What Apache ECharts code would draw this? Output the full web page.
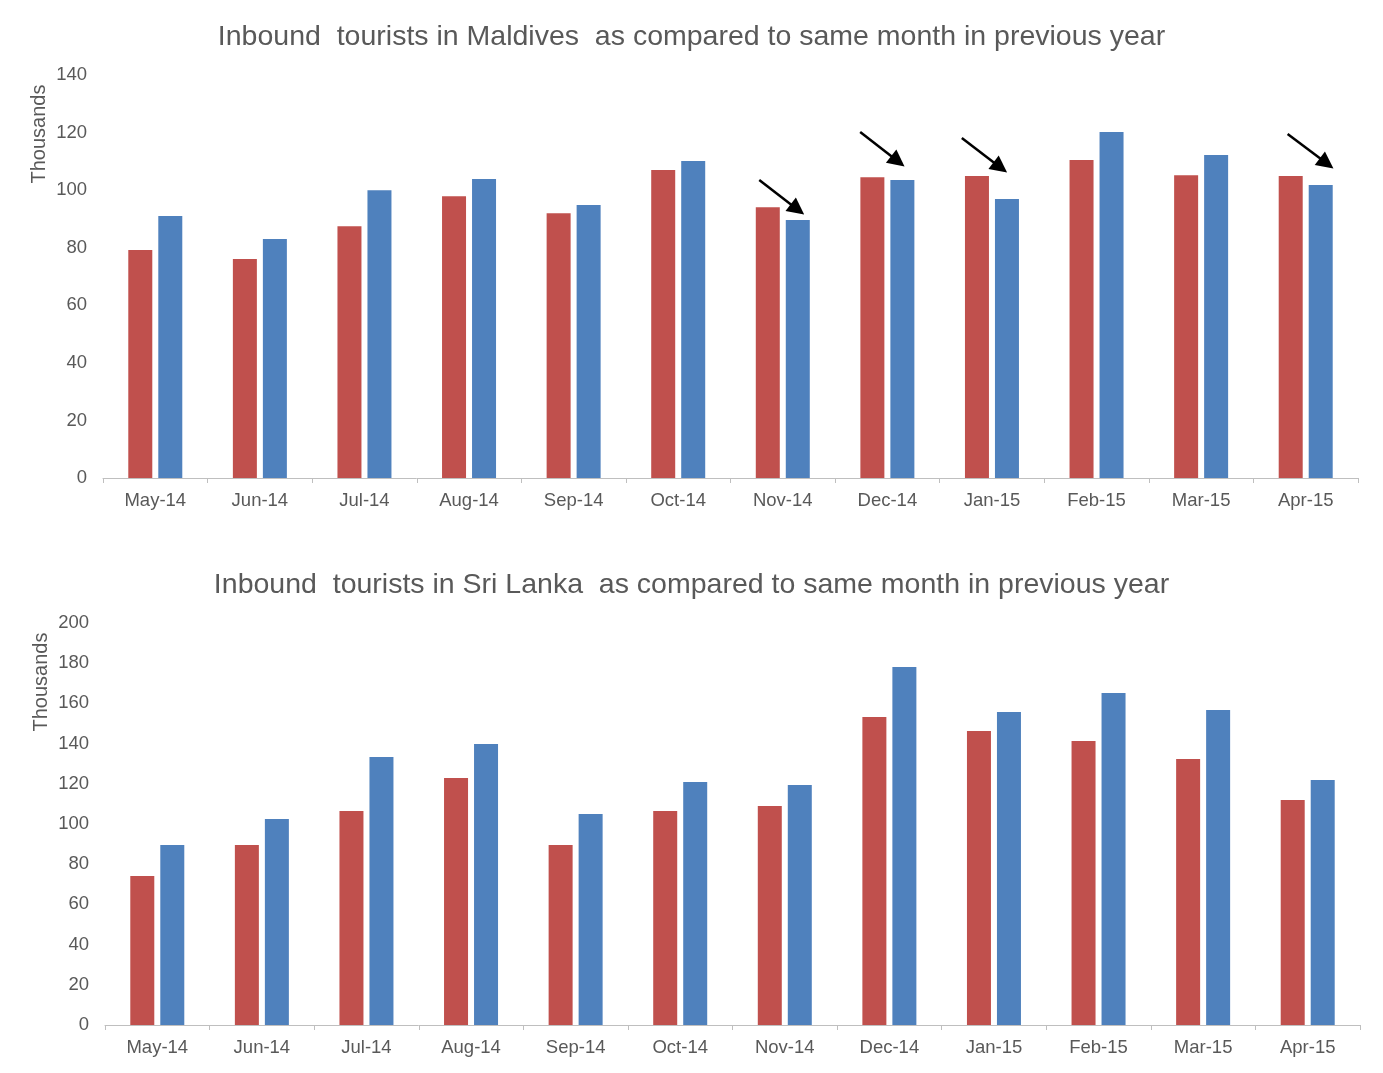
<!DOCTYPE html>
<html>
<head>
<meta charset="utf-8">
<script src="https://cdn.jsdelivr.net/npm/echarts@6/dist/echarts.min.js"></script>
<style>
html,body{margin:0;padding:0;background:#fff;}
#chart{width:1383px;height:1073px;}
</style>
</head>
<body>
<div id="chart"></div>
<script>
var months = ['May-14','Jun-14','Jul-14','Aug-14','Sep-14','Oct-14','Nov-14','Dec-14','Jan-15','Feb-15','Mar-15','Apr-15'];
var maldivesPrev = [79.2, 76.1, 87.5, 97.9, 92.0, 107.0, 94.1, 104.5, 104.9, 110.5, 105.2, 104.9];
var maldivesCurr = [91.0, 83.0, 100.0, 103.9, 94.8, 110.1, 89.6, 103.5, 96.9, 120.2, 112.2, 101.8];
var sriLankaPrev = [74.1, 89.6, 106.5, 122.9, 89.6, 106.5, 109.0, 153.2, 146.3, 141.3, 132.3, 111.9];
var sriLankaCurr = [89.6, 102.5, 133.3, 139.8, 105.0, 120.9, 119.4, 178.1, 155.7, 165.2, 156.7, 121.9];
// arrows on Maldives chart: [tail x (category index units), tail value, head x, head value]
var maldivesArrows = [
  [5.775, 103.5, 6.14, 93.3],
  [6.74, 120.2, 7.10, 110.0],
  [7.712, 118.1, 8.08, 107.9],
  [10.827, 119.5, 11.20, 109.3]
];
var titles = [
  'Inbound  tourists in Maldives  as compared to same month in previous year',
  'Inbound  tourists in Sri Lanka  as compared to same month in previous year'
];
var yName = 'Thousands';

var RED = '#C0504D', BLUE = '#4F81BD', TXT = '#595959';
var FONT = 'Liberation Sans, Arial, sans-serif';

var chart = echarts.init(document.getElementById('chart'));

function catAxis(gi) {
  return {
    type: 'category', gridIndex: gi, data: months,
    axisLine: {lineStyle: {color: '#bfbfbf', width: 1}},
    axisTick: {show: true, alignWithLabel: false, length: 5, lineStyle: {color: '#bfbfbf'}},
    axisLabel: {color: TXT, fontSize: 18.5, fontFamily: FONT, margin: 13},
    splitLine: {show: false}
  };
}
function valAxis(gi, max, interval) {
  return {
    type: 'value', gridIndex: gi, min: 0, max: max, interval: interval,
    axisLine: {show: false}, axisTick: {show: false},
    axisLabel: {color: TXT, fontSize: 18.5, fontFamily: FONT, margin: 16},
    splitLine: {show: false}
  };
}

var option = {
  animation: false,
  backgroundColor: '#fff',
  title: [
    {text: titles[0], left: 'center', top: 18, textStyle: {color: TXT, fontSize: 28.5, fontWeight: 'normal', fontFamily: FONT}},
    {text: titles[1], left: 'center', top: 566, textStyle: {color: TXT, fontSize: 28.5, fontWeight: 'normal', fontFamily: FONT}}
  ],
  grid: [
    {left: 103, right: 25, top: 75, height: 403},
    {left: 105, right: 23, top: 623, height: 402}
  ],
  xAxis: [
    catAxis(0),
    catAxis(1),
    {type: 'value', gridIndex: 0, min: -0.5, max: 11.5, show: false}
  ],
  yAxis: [
    valAxis(0, 140, 20),
    valAxis(1, 200, 20)
  ],
  graphic: [
    {type: 'text', x: 39, y: 134, rotation: Math.PI / 2,
     style: {text: yName, fill: TXT, fontSize: 20, fontFamily: FONT, align: 'center', verticalAlign: 'middle'}},
    {type: 'text', x: 41, y: 682, rotation: Math.PI / 2,
     style: {text: yName, fill: TXT, fontSize: 20, fontFamily: FONT, align: 'center', verticalAlign: 'middle'}}
  ],
  series: [
    {type: 'bar', xAxisIndex: 0, yAxisIndex: 0, data: maldivesPrev, barWidth: 24, barGap: '25%', itemStyle: {color: RED}},
    {type: 'bar', xAxisIndex: 0, yAxisIndex: 0, data: maldivesCurr, barWidth: 24, barGap: '25%', itemStyle: {color: BLUE}},
    {type: 'bar', xAxisIndex: 1, yAxisIndex: 1, data: sriLankaPrev, barWidth: 24, barGap: '25%', itemStyle: {color: RED}},
    {type: 'bar', xAxisIndex: 1, yAxisIndex: 1, data: sriLankaCurr, barWidth: 24, barGap: '25%', itemStyle: {color: BLUE}},
    {type: 'lines', coordinateSystem: 'cartesian2d', xAxisIndex: 2, yAxisIndex: 0,
     symbol: ['none', 'triangle'], symbolSize: [15, 17],
     lineStyle: {color: '#000', width: 2.5, opacity: 1, curveness: 0},
     itemStyle: {color: '#000'},
     data: maldivesArrows.map(function (a) { return {coords: [[a[0], a[1]], [a[2], a[3]]]}; })}
  ]
};
chart.setOption(option);
</script>
</body>
</html>
